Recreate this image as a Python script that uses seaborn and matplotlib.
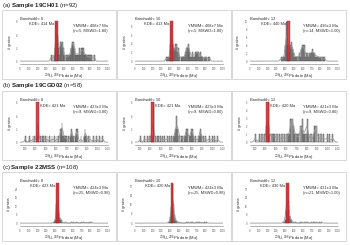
import numpy as np
import seaborn as sns
import matplotlib.pyplot as plt
from matplotlib.patches import Rectangle
from matplotlib.ticker import MultipleLocator, MaxNLocator

# grain dates (Ma), estimated from the histograms
ages_19CH01 = [350, 365, 383, 394, 402, 404, 407, 409, 411, 412, 413, 414, 415, 416, 417, 418,
               419, 420, 424, 426, 428, 430, 433, 436, 440, 444, 448, 456, 458, 461, 463, 466,
               469, 471, 474, 477, 479, 482, 485, 490, 494, 498, 508, 520, 533, 541, 552, 563,
               570, 577, 582, 585, 588, 591, 594, 597, 600, 602, 605, 608, 611, 614, 617, 620,
               628, 636, 643, 650, 657, 665, 672, 679, 686, 692, 697, 702, 706, 711, 716, 721,
               726, 732, 740, 748, 756, 765, 778, 790, 802, 815, 830, 848]
ages_19CGD02 = [300, 345, 372, 395, 418, 420, 421, 421, 422, 423, 425, 445, 462, 478, 492, 510,
                535, 560, 580, 605, 622, 636, 642, 646, 650, 653, 656, 659, 663, 668, 675, 690,
                700, 722, 738, 744, 748, 752, 756, 770, 782, 792, 796, 800, 804, 810, 838, 868,
                876, 880, 884, 892, 910, 930, 960, 990, 1015, 1050]
ages_22MSS = [380, 395, 400, 403, 405, 407, 408, 410, 411, 412, 413, 414, 415, 415, 416, 417,
              417, 418, 418, 419, 419, 420, 420, 420, 421, 421, 421, 422, 422, 422, 423, 423,
              423, 423, 424, 424, 424, 424, 425, 425, 425, 425, 426, 426, 426, 426, 427, 427,
              427, 428, 428, 428, 429, 429, 429, 430, 430, 430, 431, 431, 432, 432, 433, 433,
              434, 434, 435, 435, 436, 437, 438, 439, 440, 441, 442, 443, 445, 447, 449, 451,
              453, 455, 458, 461, 465, 470, 476, 490, 520, 585, 610, 640, 655, 700, 720, 735,
              760, 790, 815]

row_ages = [ages_19CH01, ages_19CGD02, ages_22MSS]
samples = ['19CH01', '19CGD02', '22MSS']
sample_n = [92, 58, 108]
row_tags = ['(a)', '(b)', '(c)']
bandwidths = [8, 10, 12]
kde_peak = [[414, 413, 440], [421, 421, 420], [423, 420, 430]]
ymwm_age = [['408±7', '408±7', '436±3'], ['423±3', '423±3', '421±3'], ['424±3', '424±3', '431±3']]
ymwm_n = [[5, 5, 14], [9, 9, 9], [25, 25, 21]]
ymwm_mswd = [['1.80', '1.80', '1.00'], ['0.80', '0.80', '0.80'], ['0.98', '0.98', '1.00']]
x_limits = [(0, 1000), (250, 1100), (0, 1000)]

sns.set_style('white')
plt.rcParams['font.family'] = ['Liberation Sans', 'DejaVu Sans']
plt.rcParams['mathtext.fontset'] = 'custom'
plt.rcParams['mathtext.rm'] = 'Liberation Sans'
plt.rcParams['mathtext.bf'] = 'Liberation Sans:bold'

W, H = 350, 245
fig = plt.figure(figsize=(3.5, 2.45), dpi=100)
row_top = [10, 91, 172]
col_left = [2, 117, 232]

for r in range(3):
    T = row_top[r]
    fig.text(2 / W, 1 - (T - 5) / H,
             row_tags[r] + r' $\mathbf{Sample\ ' + samples[r] + '}$ (n=' + str(sample_n[r]) + ')',
             fontsize=4.4, va='center', ha='left', color='#222222')
    ages = np.array(row_ages[r])
    for c in range(3):
        L = col_left[c]
        fig.patches.append(Rectangle((L / W, 1 - (T + 69) / H), 114 / W, 69 / H,
                                     transform=fig.transFigure, fill=False,
                                     ec='#c8c8c8', lw=0.5))
        ax = fig.add_axes([(L + 18) / W, 1 - (T + 54) / H, 88 / W, 44 / H])
        bw = bandwidths[c]
        sns.histplot(x=ages, binwidth=bw, kde=True, ax=ax, color='#9a9a9a',
                     edgecolor='#454545', linewidth=0.3, alpha=0.75,
                     kde_kws=dict(bw_method=bw / np.std(ages, ddof=1), cut=60, clip=x_limits[r]),
                     line_kws=dict(color='#8c8c8c', lw=0.6))
        ax.set_xlim(*x_limits[r])
        top = ax.get_ylim()[1]
        ax.set_ylim(-0.07 * top, top)
        kp = kde_peak[r][c]
        ax.axvspan(kp - 16, kp + 16, ymin=0.065, ymax=0.97, facecolor='#d42a30',
                   edgecolor='#8a1015', lw=0.3, alpha=0.85, zorder=3)

        ax.xaxis.set_major_locator(MultipleLocator(100))
        ax.yaxis.set_major_locator(MaxNLocator(6, integer=True))
        ax.tick_params(labelsize=1.8, length=1, width=0.3, pad=0.8, colors='#555555')
        for s in ['top', 'right', 'left']:
            ax.spines[s].set_visible(False)
        ax.spines['bottom'].set_linewidth(0.4)
        ax.spines['bottom'].set_color('#777777')
        ax.set_xlabel('$^{238}$U-$^{206}$Pb date (Ma)', fontsize=3, labelpad=0.8, color='#333333')
        ax.set_ylabel('# grains', fontsize=2.8, labelpad=3, color='#333333')

        ax.text(0.0, 1.02, f'Bandwidth: {bw}', transform=ax.transAxes, fontsize=2.9,
                va='center', ha='left', color='#333333')
        xt = ax.get_xaxis_transform()
        if r == 1:
            ax.text(kp + 24, 0.88, f'KDE= {kp} Ma', transform=xt, fontsize=2.9,
                    va='center', ha='left', color='#333333')
        else:
            ax.text(kp - 24, 0.9, f'KDE= {kp} Ma', transform=xt, fontsize=2.9,
                    va='center', ha='right', color='#333333')
        ax.text(0.6, 0.86, f'YMWM= {ymwm_age[r][c]} Ma', transform=ax.transAxes,
                fontsize=2.9, va='center', ha='left', color='#333333')
        ax.text(0.6, 0.74, f'(n={ymwm_n[r][c]}, MSWD={ymwm_mswd[r][c]})',
                transform=ax.transAxes, fontsize=2.9, va='center', ha='left', color='#333333')

fig.savefig('out.png', dpi=100)
